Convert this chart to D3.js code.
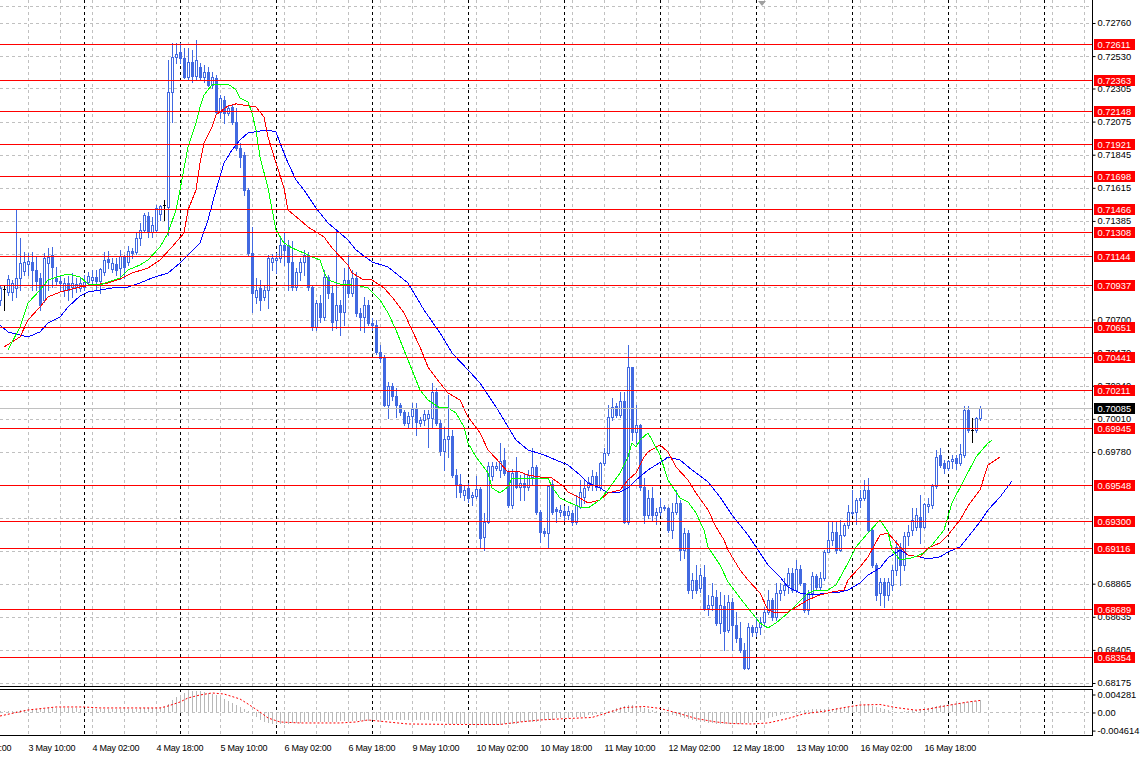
<!DOCTYPE html>
<html><head><meta charset="utf-8">
<script src="https://cdn.jsdelivr.net/npm/d3@7"></script>
<style>
html,body{margin:0;padding:0;background:#fff;}
svg{display:block;}
</style></head><body>
<svg id="c" width="1140" height="759"></svg>
<script>
// ---------------- DATA ----------------
// prices in points (1 point = 0.00001), H1 bars, bar index 0 = 3 May 10:00
const PT = 1e-5;
const firstBar = -7;
const opens = [
70836,70912,70891,70891,70919,70989,71037,71086,71100,71044,
70989,70836,71093,71149,70989,70968,70905,70954,70926,70926,
70919,70926,70961,70975,70996,70968,71030,71121,71051,71086,
71058,71135,71100,71176,71169,71267,71322,71419,71308,71322,
71433,71496,71482,72281,72524,72559,72517,72385,72489,72392,
72455,72385,72420,72330,72378,72142,72225,72135,72177,72072,
71892,71843,71600,71162,70857,70919,70857,70905,71100,71114,
71128,71218,71218,71100,70926,71030,71100,71149,70926,70648,
70815,70718,70996,70885,70697,70801,70753,70975,70885,70989,
70746,70718,70801,70676,70662,70475,70433,70106,70238,70169,
70106,70058,69981,70030,70079,69981,70002,70016,70016,70197,
69981,69787,69870,69891,69620,69558,69481,69530,69467,69474,
69523,69189,69294,69613,69669,69655,69724,69641,69412,69641,
69537,69565,69537,69606,69676,69363,69231,69217,69558,69384,
69363,69370,69342,69356,69294,69398,69467,69537,69551,69613,
69537,69704,69773,70023,70100,70037,70134,69294,70370,69919,
69968,69537,69342,69460,69342,69363,69398,69391,69238,69363,
69426,69099,69217,68821,68891,68835,68911,68696,68717,68773,
68592,68710,68543,68738,68578,68488,68404,68279,68564,68529,
68564,68599,68668,68752,68634,68800,68821,68856,68939,68821,
68967,68870,68682,68800,68919,68842,68905,69085,69169,69224,
69099,69203,69273,69356,69363,69447,69460,69516,69238,68995,
68800,68877,68787,68856,68960,69120,68995,69196,69238,69259,
69328,69259,69405,69412,69544,69759,69704,69669,69717,69738,
69704,69759,70072,69933,69933,70016];
const highs = [
70940,70940,71010,70975,71461,71267,71169,71162,71169,71135,
71023,71162,71197,71204,71065,71010,70989,71003,71023,70989,
70996,71010,71030,71044,71044,71058,71169,71176,71128,71128,
71183,71149,71211,71197,71308,71371,71440,71447,71413,71496,
71496,71531,72503,72621,72621,72621,72587,72587,72573,72642,
72482,72468,72455,72420,72399,72260,72253,72191,72191,72170,
71927,71864,71614,71343,70989,70975,70940,71149,71155,71162,
71267,71308,71253,71246,71058,71128,71183,71169,70940,70836,
70871,71044,71010,70940,71322,70836,71058,71149,71044,71030,
70780,70857,70836,70711,70697,70523,70454,70266,70259,70225,
70120,70072,70058,70120,70120,70023,70072,70072,70259,70225,
70002,69954,70176,69933,69662,69627,69544,69565,69502,69613,
69537,69356,69710,69710,69710,69842,69808,69655,69662,69745,
69620,69634,69655,69808,69690,69377,69252,69551,69585,69398,
69412,69405,69405,69377,69481,69585,69585,69606,69655,69641,
69710,69808,70106,70155,70120,70197,70197,70523,70370,70106,
69975,69599,69516,69537,69391,69460,69412,69398,69426,69516,
69447,69252,69238,68939,68995,68974,68995,68787,68870,68821,
68807,68787,68787,68766,68668,68599,68453,68592,68578,68634,
68634,68703,68821,68766,68870,68870,68905,68974,68974,69030,
68995,68870,68821,68946,68932,68946,69099,69294,69294,69294,
69308,69287,69412,69516,69460,69516,69585,69599,69252,69009,
68905,68905,68905,68995,69169,69148,69224,69273,69391,69391,
69481,69426,69460,69558,69794,69808,69724,69724,69759,69759,
69836,70100,70100,70016,70023,70100];
const lows = [
70801,70766,70871,70836,70857,70905,71010,71010,70905,70905,
70766,70822,70905,70926,70940,70905,70864,70836,70857,70891,
70898,70905,70940,70940,70905,70885,71010,71058,71030,71010,
70982,70989,71079,71128,71155,71218,71308,71274,71274,71308,
71392,71392,71287,72072,72482,72482,72378,72364,72350,72364,
72364,72350,72323,72309,72135,72100,72066,72121,72059,71878,
71760,71565,71149,70753,70815,70766,70836,70780,71044,71023,
71100,71079,70905,70905,70905,70975,71010,70905,70627,70627,
70683,70697,70850,70627,70641,70593,70662,70857,70864,70725,
70627,70614,70662,70627,70461,70405,70100,70016,70141,70023,
70037,69968,69947,69954,69898,69961,69968,69815,69954,69968,
69759,69655,69745,69606,69467,69467,69447,69433,69412,69460,
69120,69099,69287,69585,69655,69606,69620,69398,69391,69530,
69447,69447,69516,69551,69349,69155,69196,69113,69349,69294,
69335,69308,69315,69273,69280,69391,69426,69516,69516,69516,
69516,69690,69759,70002,70023,70023,69287,69280,69863,69842,
69516,69287,69321,69308,69280,69342,69377,69224,69183,69349,
69030,69044,68800,68766,68800,68807,68682,68648,68682,68578,
68523,68404,68529,68404,68460,68391,68272,68272,68502,68502,
68516,68571,68655,68613,68613,68752,68787,68800,68807,68807,
68856,68668,68655,68780,68821,68821,68891,69085,69134,69078,
69092,69196,69252,69342,69280,69398,69447,69224,68981,68752,
68717,68703,68752,68821,68925,68856,68960,69134,69203,69238,
69148,69252,69363,69391,69530,69676,69634,69655,69669,69662,
69690,69745,69919,69849,69919,70002];
const closes = [
70919,70912,70982,70954,70989,71093,71100,71107,71044,70968,
70801,71128,71135,71065,70968,70954,70954,70905,70954,70947,
70954,70961,71003,70996,70968,71051,71114,71100,71093,71044,
71142,71065,71176,71162,71267,71322,71426,71308,71357,71475,
71489,71496,72281,72524,72545,72517,72385,72489,72392,72503,
72385,72420,72330,72385,72142,72239,72135,72170,72072,71892,
71829,71600,71162,70885,70905,70836,70905,71128,71128,71128,
71218,71183,71100,70926,71030,71100,71149,70926,70648,70815,
70718,70996,70885,70683,70801,70753,70975,70885,70989,70746,
70718,70801,70676,70662,70475,70433,70106,70238,70169,70106,
70058,69981,70030,70079,69988,70002,70044,70044,70197,69981,
69787,69870,69891,69620,69558,69502,69516,69460,69481,69523,
69183,69294,69683,69683,69683,69717,69634,69412,69634,69537,
69565,69537,69620,69676,69363,69224,69217,69544,69363,69370,
69377,69342,69370,69294,69412,69502,69530,69572,69613,69537,
69704,69773,70023,70093,70037,70134,69294,70370,69919,69968,
69537,69342,69460,69342,69363,69398,69391,69238,69363,69426,
69099,69217,68821,68891,68821,68925,68696,68717,68780,68592,
68717,68536,68738,68578,68488,68404,68279,68564,68529,68564,
68599,68668,68752,68634,68800,68821,68856,68939,68821,68967,
68870,68682,68800,68919,68842,68905,69085,69169,69224,69099,
69203,69273,69363,69363,69447,69460,69516,69238,68995,68787,
68877,68787,68877,68960,69120,68995,69196,69224,69308,69342,
69259,69419,69419,69544,69745,69690,69669,69717,69731,69704,
69766,70072,69933,69933,70016,70085];

// Alligator lines (drawn bar position, value in points)
const lipsIdx = [-5,-2,0,3,5,8,10,13,15,18,20,23,25,28,30,33,35,37,38,40,42,43,44,46,47,50,52,53,55,56,57,58,60,62,64,66,69,71,73,74,75,78,81,83,85,88,90,92,94,96,98,100,103,105,107,109,110,112,115,116,118,120,121,123,125,128,130,131,133,135,138,140,143,145,148,150,151,152,153,155,156,158,160,163,165,167,169,170,173,175,178,180,183,185,187,190,192,195,197,200,202,205,207,210,213,215,216,218,221,224,226,229,231,234,237,240,241];
const lipsVal = [70489,70648,70815,70905,70975,71003,71017,70996,70947,70940,70961,70989,71044,71079,71114,71204,71301,71461,71600,71899,72066,72177,72260,72330,72336,72336,72295,72239,72211,72135,72017,71829,71614,71322,71232,71197,71162,71135,71114,71030,70975,70947,70940,70933,70919,70836,70746,70627,70489,70350,70211,70141,70086,70086,70051,69954,69842,69745,69634,69530,69495,69537,69599,69599,69592,69599,69599,69537,69460,69433,69398,69391,69447,69516,69634,69745,69842,69815,69863,69912,69863,69759,69585,69460,69433,69356,69238,69120,68995,68877,68766,68696,68592,68557,68592,68661,68717,68800,68821,68821,68856,69009,69120,69217,69308,69224,69099,69030,69044,69078,69134,69238,69426,69585,69745,69842,69863];
const teethIdx = [-6,-2,0,3,5,8,13,16,20,23,26,30,33,36,39,40,42,43,44,46,47,50,52,55,57,59,60,62,64,65,68,70,74,76,80,81,84,86,89,91,94,96,98,100,103,105,108,110,113,115,118,120,123,125,128,131,134,135,138,140,143,145,148,150,152,154,155,158,160,162,165,167,170,172,174,175,178,180,183,185,187,190,192,195,198,201,204,205,208,210,213,215,218,220,223,225,228,230,233,235,238,240,243];
const teethVal = [70509,70579,70697,70787,70857,70891,70926,70940,70954,70982,71023,71058,71114,71204,71301,71461,71600,71788,71927,72038,72121,72184,72198,72184,72177,72107,71968,71788,71614,71461,71392,71343,71274,71197,71079,71023,70975,70975,70919,70857,70746,70627,70509,70370,70259,70190,70141,70023,69912,69794,69704,69641,69641,69620,69606,69599,69537,69502,69460,69426,69447,69495,69516,69585,69634,69745,69780,69829,69780,69676,69585,69495,69377,69259,69169,69099,68960,68891,68800,68682,68661,68668,68703,68752,68787,68807,68821,68891,68981,69051,69203,69217,69120,69064,69051,69113,69148,69203,69308,69405,69516,69690,69745];
const jawIdx = [-7,-5,-2,0,3,5,8,10,13,15,18,21,25,28,31,35,38,40,43,45,47,49,51,53,55,58,60,62,63,65,67,69,72,75,78,80,82,86,90,95,99,103,106,110,113,117,120,122,125,129,132,135,138,140,143,145,148,150,152,155,157,159,160,163,166,170,173,176,180,183,185,188,190,193,196,200,203,205,208,210,213,215,218,220,223,225,228,230,233,235,238,240,243,246];
const jawVal = [70662,70614,70593,70579,70614,70676,70718,70787,70864,70891,70905,70919,70926,70954,70989,71023,71093,71149,71232,71392,71600,71788,71878,71947,71996,72010,72017,72003,71927,71788,71670,71600,71475,71371,71301,71253,71183,71100,71065,70954,70766,70607,70468,70350,70259,70093,69954,69863,69794,69759,69724,69690,69620,69565,69530,69495,69502,69530,69585,69655,69690,69724,69745,69724,69655,69572,69467,69342,69203,69078,68995,68911,68842,68800,68787,68800,68807,68821,68870,68925,68974,69044,69099,69064,69051,69037,69051,69085,69120,69189,69294,69377,69467,69578];

// MACD histogram (points) per bar, and signal line samples
const macdHist = [
20,20,20,20,20,41,41,61,61,61,
61,61,82,82,82,82,82,82,82,82,
61,61,61,61,61,61,61,61,61,61,
61,61,61,61,61,82,82,82,82,82,
82,102,163,245,306,347,388,408,428,428,
428,408,388,367,347,306,265,224,184,143,
102,61,20,-41,-102,-163,-204,-224,-245,-245,
-245,-245,-245,-224,-224,-224,-204,-204,-204,-204,
-204,-204,-204,-204,-204,-194,-194,-194,-194,-194,
-194,-194,-194,-163,-163,-163,-163,-163,-163,-163,
-163,-163,-163,-163,-163,-163,-163,-163,-184,-184,
-184,-184,-245,-245,-245,-245,-245,-245,-265,-265,
-265,-265,-265,-265,-265,-265,-245,-245,-245,-245,
-204,-204,-204,-204,-204,-163,-163,-163,-163,-122,
-122,-122,-122,-102,-102,-102,-102,-61,-61,-41,
-41,0,20,41,82,102,122,143,143,122,
102,82,61,41,20,0,-20,-41,-61,-82,
-102,-122,-143,-163,-184,-204,-204,-224,-224,-245,
-245,-245,-245,-245,-245,-245,-224,-224,-204,-184,
-163,-143,-122,-102,-82,-61,-41,-20,0,20,
20,41,41,61,61,61,61,61,61,82,
82,102,102,122,122,143,143,143,122,102,
82,61,41,20,0,0,20,20,41,41,
61,61,82,102,122,143,143,163,163,184,
184,204,204,224,224,245];
const sigIdx = [-7,0,7,14,18,33,35,38,40,43,46,49,53,55,58,60,63,68,78,82,85,90,95,108,118,123,128,135,141,144,149,154,158,163,167,172,176,181,185,190,194,199,204,208,213,217,222,225,231,235,238];
const sigVal = [-82,41,102,102,82,82,122,204,286,347,388,367,265,163,0,-122,-204,-224,-224,-204,-163,-204,-245,-255,-255,-204,-163,-133,-112,-37,90,112,73,-37,-133,-204,-235,-245,-224,-133,-37,14,90,143,153,90,37,59,149,204,235];

// axes / labels
const priceTicks = [0.72760,0.72530,0.72305,0.72075,0.71845,0.71615,0.71385,0.71155,0.70925,0.70700,0.70470,0.70240,0.70010,0.69780,0.69550,0.69320,0.69095,0.68865,0.68635,0.68405,0.68175];
const extraGrid = [0.72880];
const levels = [0.72611,0.72363,0.72148,0.71921,0.71698,0.71466,0.71308,0.71144,0.70937,0.70651,0.70441,0.70211,0.69945,0.69548,0.69300,0.69116,0.68689,0.68354];
const bidPrice = 0.70085;
const timeLabelBars = [-16,0,16,32,48,64,80,96,112,128,144,160,176,192,208,224];
const timeLabels = ["2 May 18:00","3 May 10:00","4 May 02:00","4 May 18:00","5 May 10:00","6 May 02:00","6 May 18:00","9 May 10:00","10 May 02:00","10 May 18:00","11 May 10:00","12 May 02:00","12 May 18:00","13 May 10:00","16 May 02:00","16 May 18:00"];
const indTicks = [0.004281, 0, -0.004614];
const indTickLabels = ["0.004281","0.00","-0.004614"];
const gridStep = 8, daySepFirst = 14, daySepStep = 24;

// ---------------- LAYOUT ----------------
const W = 1140, H = 759;
const R = 1092;              // right border x
const mainBot = 686, indTop = 689, indBot = 735;
const FONT = '"Liberation Sans", Arial, sans-serif';
const BLUE = "#4169e1", GRID = "#c0c0c0";

const xs = d3.scaleLinear().domain([0, 1]).range([28, 32]);
const ys = d3.scaleLinear().domain([0.68175, 0.72760]).range([683, 23]);
const yi = d3.scaleLinear().domain([-0.004614, 0.004281]).range([734.6, 691]);

const svg = d3.select("#c");
svg.append("rect").attr("width", W).attr("height", H).attr("fill", "#fff");
const defs = svg.append("defs");
defs.append("clipPath").attr("id", "cm").append("rect").attr("x", 0).attr("y", 0).attr("width", R).attr("height", mainBot);
defs.append("clipPath").attr("id", "ci").append("rect").attr("x", 0).attr("y", indTop).attr("width", R).attr("height", indBot - indTop);

const gM = svg.append("g").attr("clip-path", "url(#cm)");
const gI = svg.append("g").attr("clip-path", "url(#ci)");
const px = v => Math.round(v) + 0.5;

// horizontal grid (main)
gM.selectAll("line.hg").data(priceTicks.concat(extraGrid)).join("line")
  .attr("x1", 0).attr("x2", R).attr("y1", d => px(ys(d))).attr("y2", d => px(ys(d)))
  .attr("stroke", GRID).attr("stroke-dasharray", "3,3");
// zero line indicator
gI.append("line").attr("x1", 0).attr("x2", R).attr("y1", px(yi(0))).attr("y2", px(yi(0)))
  .attr("stroke", GRID).attr("stroke-dasharray", "3,3");

const gridBars = d3.range(-gridStep, 272, gridStep);
const sepBars = d3.range(daySepFirst - daySepStep, 272, daySepStep);
[[gM, 0, mainBot], [gI, indTop, indBot]].forEach(([g, y1, y2]) => {
  g.selectAll("line.vg").data(gridBars).join("line").attr("class", "vg")
    .attr("x1", d => px(xs(d))).attr("x2", d => px(xs(d))).attr("y1", y1).attr("y2", y2)
    .attr("stroke", GRID).attr("stroke-dasharray", "3,3");
  g.selectAll("line.sep").data(sepBars).join("line").attr("class", "sep")
    .attr("x1", d => px(xs(d))).attr("x2", d => px(xs(d))).attr("y1", y1).attr("y2", y2)
    .attr("stroke", "#000").attr("stroke-dasharray", "3,3");
});

// candles
const bars = opens.map((o, k) => ({ i: firstBar + k, o: o * PT, h: highs[k] * PT, l: lows[k] * PT, c: closes[k] * PT, doji: o === closes[k] }));
const gc = gM.append("g");
gc.selectAll("line.wick").data(bars).join("line")
  .attr("x1", d => px(xs(d.i))).attr("x2", d => px(xs(d.i)))
  .attr("y1", d => Math.round(ys(d.h))).attr("y2", d => Math.round(ys(d.l)) + 1)
  .attr("stroke", d => d.doji ? "#000" : BLUE);
gc.selectAll("rect.bear").data(bars.filter(d => !d.doji && d.c < d.o)).join("rect")
  .attr("x", d => Math.round(xs(d.i)) - 1).attr("y", d => Math.round(ys(d.o)))
  .attr("width", 3).attr("height", d => Math.max(1, Math.round(ys(d.c)) - Math.round(ys(d.o)) + 1))
  .attr("fill", BLUE);
gc.selectAll("rect.bull").data(bars.filter(d => !d.doji && d.c > d.o)).join("rect")
  .attr("x", d => Math.round(xs(d.i)) - 0.5).attr("y", d => Math.round(ys(d.c)) + 0.5)
  .attr("width", 2).attr("height", d => Math.max(1, Math.round(ys(d.o)) - Math.round(ys(d.c))))
  .attr("fill", "#fff").attr("stroke", BLUE);
gc.selectAll("line.doji").data(bars.filter(d => d.doji)).join("line")
  .attr("x1", d => Math.round(xs(d.i)) - 1).attr("x2", d => Math.round(xs(d.i)) + 2)
  .attr("y1", d => px(ys(d.o))).attr("y2", d => px(ys(d.o))).attr("stroke", "#000");

// alligator lines
const lineGen = d3.line().x(d => xs(d[0])).y(d => ys(d[1] * PT));
[[jawIdx, jawVal, "#0000ff"], [teethIdx, teethVal, "#ff0000"], [lipsIdx, lipsVal, "#00ff00"]].forEach(([idx, val, col]) => {
  gM.append("path").datum(idx.map((d, k) => [d, val[k]])).attr("d", lineGen)
    .attr("fill", "none").attr("stroke", col).attr("stroke-width", 1).attr("shape-rendering", "crispEdges");
});

// level lines + bid line
gM.selectAll("line.lv").data(levels).join("line")
  .attr("x1", 0).attr("x2", R).attr("y1", d => px(ys(d))).attr("y2", d => px(ys(d)))
  .attr("stroke", "#ff0000");
gM.append("line").attr("x1", 0).attr("x2", R).attr("y1", px(ys(bidPrice))).attr("y2", px(ys(bidPrice))).attr("stroke", GRID);

// shift marker
svg.append("path").attr("d", "M758,1L766,1L762,6Z").attr("fill", "#a0a0a0");

// MACD histogram + signal
gI.selectAll("line.hb").data(macdHist.map((v, k) => ({ i: firstBar + k, v: v * PT })).filter(d => d.v !== 0)).join("line")
  .attr("x1", d => px(xs(d.i))).attr("x2", d => px(xs(d.i)))
  .attr("y1", Math.round(yi(0))).attr("y2", d => Math.round(yi(d.v)))
  .attr("stroke", "#b8b8b8");
gI.append("path").datum(sigIdx.map((d, k) => [d, sigVal[k] * PT]))
  .attr("d", d3.line().x(d => xs(d[0])).y(d => yi(d[1])))
  .attr("fill", "none").attr("stroke", "#ff0000").attr("stroke-dasharray", "2,2");

// borders
const bd = svg.append("g").attr("stroke", "#000").attr("shape-rendering", "crispEdges");
bd.append("line").attr("x1", 0).attr("x2", R + 0.5).attr("y1", mainBot + 0.5).attr("y2", mainBot + 0.5);
bd.append("line").attr("x1", 0).attr("x2", R + 0.5).attr("y1", indTop + 0.5).attr("y2", indTop + 0.5);
bd.append("line").attr("x1", 0).attr("x2", R + 0.5).attr("y1", indBot + 0.5).attr("y2", indBot + 0.5);
bd.append("line").attr("x1", R + 0.5).attr("x2", R + 0.5).attr("y1", 0).attr("y2", mainBot + 0.5);
bd.append("line").attr("x1", R + 0.5).attr("x2", R + 0.5).attr("y1", indTop + 0.5).attr("y2", indBot + 0.5);

// price axis: labels that sit completely under a level box are not shown (as on the reference)
const hiddenUnder = p => levels.some(v => Math.abs(ys(v) - ys(p)) < 3.5);
const shownTicks = priceTicks.filter(p => !hiddenUnder(p));
const gA = svg.append("g").attr("transform", `translate(${R + 0.5},0)`)
  .call(d3.axisRight(ys).tickValues(shownTicks).tickSize(3).tickSizeOuter(0).tickPadding(2).tickFormat(d3.format(".5f")));
gA.select(".domain").remove();
gA.attr("font-family", FONT).attr("font-size", 9.3);
gA.selectAll("text").attr("fill", "#000");

// level labels
const gL = svg.append("g").attr("font-family", FONT).attr("font-size", 9.3);
const lab = gL.selectAll("g").data(levels.map(v => ({ v, bg: "#ff0000" })).concat([{ v: bidPrice, bg: "#000" }])).join("g")
  .attr("transform", d => `translate(0,${Math.round(ys(d.v))})`);
lab.append("rect").attr("x", R + 2).attr("y", -5).attr("width", 41).attr("height", 11).attr("fill", d => d.bg);
lab.append("text").attr("x", R + 5.5).attr("y", 3.8).attr("fill", "#fff").text(d => d3.format(".5f")(d.v));

// indicator axis
const gIA = svg.append("g").attr("transform", `translate(${R + 0.5},0)`)
  .call(d3.axisRight(yi).tickValues(indTicks).tickSize(3).tickSizeOuter(0).tickPadding(2).tickFormat((d, k) => indTickLabels[k]));
gIA.select(".domain").remove();
gIA.attr("font-family", FONT).attr("font-size", 9.3);
const indOff = [4, 1, -3.5];
gIA.selectAll(".tick").attr("transform", (d, k) => `translate(0,${yi(d) + indOff[k]})`);

// time axis
const gT = svg.append("g").attr("transform", `translate(0,${indBot})`)
  .call(d3.axisBottom(xs).tickValues(timeLabelBars).tickSize(0).tickPadding(0).tickFormat((d, k) => timeLabels[k]));
gT.select(".domain").remove();
gT.attr("font-family", FONT).attr("font-size", 9);
gT.selectAll("text").attr("text-anchor", "start").attr("dy", 0).attr("y", 16).attr("letter-spacing", "-0.25px").attr("fill", "#000");
</script>
</body></html>
